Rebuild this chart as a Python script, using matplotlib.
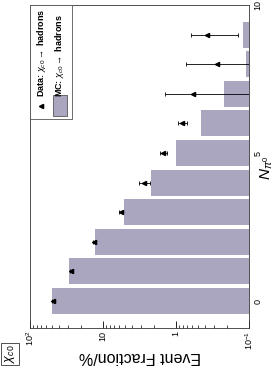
import matplotlib
matplotlib.use("Agg")
import matplotlib.pyplot as plt
from matplotlib.patches import Rectangle
import numpy as np

plt.rcParams['font.family'] = ['Liberation Sans', 'DejaVu Sans']
plt.rcParams['mathtext.fontset'] = 'custom'
plt.rcParams['mathtext.rm'] = 'Liberation Sans'
plt.rcParams['mathtext.it'] = 'Liberation Sans:italic'
plt.rcParams['mathtext.bf'] = 'Liberation Sans:bold'

n_pi0 = [0, 1, 2, 3, 4, 5, 6, 7, 8, 9]
mc_frac = [49.5, 29.2, 12.9, 5.15, 2.2, 0.99, 0.46, 0.218, 0.11, 0.12]
data_frac = [48.0, 27.4, 13.2, 5.7, 2.74, 1.49, 0.82, 0.58, 0.277, 0.38]
data_err = [1.5, 0.9, 0.5, 0.4, 0.5, 0.15, 0.12, 0.84, 0.45, 0.24]
frac_ticks = [100, 10, 1, 0.1]
frac_ticklabels = ['$10^{2}$', '10', '1', '$10^{-1}$']
n_ticks = [0, 5, 10]
n_ticklabels = ['0', '5', '10']

W, H = 277, 370
fig = plt.figure(figsize=(W / 100, H / 100), dpi=100)
ax = fig.add_axes([30 / W, 1 - 328 / H, 219 / W, 323 / H])

bar_color = '#aaa6c0'
ax.barh(n_pi0, mc_frac, height=0.88, left=0, color=bar_color, edgecolor='none', zorder=1)
ax.errorbar(data_frac, n_pi0, xerr=data_err, fmt='<', color='black', ms=3.0,
            elinewidth=0.6, capsize=1.2, capthick=0.6, zorder=3)

ax.set_xscale('log')
ax.set_xlim(100, 0.1)
ax.set_ylim(-0.91, 10)

ax.set_xticks(frac_ticks)
ax.set_xticklabels(frac_ticklabels, rotation=90, fontsize=6.5)
ax.tick_params(axis='x', which='major', direction='in', length=5, width=0.6, pad=2, top=False)
ax.tick_params(axis='x', which='minor', direction='in', length=2.5, width=0.5, top=False)

ax.yaxis.tick_right()
ax.set_yticks(n_ticks)
ax.set_yticklabels(n_ticklabels, rotation=90, fontsize=6.5)
ax.tick_params(axis='y', which='both', length=0, pad=3, left=False)
for lab in ax.get_yticklabels():
    lab.set_va('center')
    lab.set_ha('left')

fig.text(140 / W, 1 - 357 / H, 'Event Fraction/%', rotation=180, ha='center', va='center',
         fontsize=11.5)
fig.text(267 / W, 1 - 168 / H, r'$N_{\pi^0}$', rotation=90, ha='center', va='center',
         fontsize=11)

for sp in ax.spines.values():
    sp.set_linewidth(0.6)
    sp.set_color('#333333')

# manual rotated legend (axes fraction coords)
def fx(X):
    return (X - 30) / 219.0

def fy(Y):
    return (328 - Y) / 323.0

ax.add_patch(Rectangle((fx(30), fy(119)), fx(72) - fx(30), fy(5) - fy(119),
                       transform=ax.transAxes, facecolor='white', edgecolor='#555555',
                       lw=0.6, zorder=4))
ax.plot([fx(41)], [fy(106)], marker='<', color='black', ms=3.0, transform=ax.transAxes,
        zorder=5, clip_on=False)
ax.text(fx(41), fy(97), r'Data: $\chi_{c0}\rightarrow$ hadrons', rotation=90,
        ha='center', va='bottom', fontsize=6.5, fontweight='bold', transform=ax.transAxes, zorder=5)
ax.add_patch(Rectangle((fx(53), fy(116)), fx(67) - fx(53), fy(95) - fy(116),
                       transform=ax.transAxes, facecolor=bar_color, edgecolor='#555555',
                       lw=0.6, zorder=5))
ax.text(fx(60), fy(97), r'MC: $\chi_{c0}\rightarrow$ hadrons', rotation=90,
        ha='center', va='bottom', fontsize=6.5, fontweight='bold', transform=ax.transAxes, zorder=5)

fig.text(10 / W, 1 - 354 / H, r'$\chi_{c0}$', rotation=90, ha='center', va='center',
         fontsize=9, bbox=dict(boxstyle='square,pad=0.15', facecolor='white',
                               edgecolor='#333333', lw=0.6))

fig.savefig('out.png', dpi=100)
